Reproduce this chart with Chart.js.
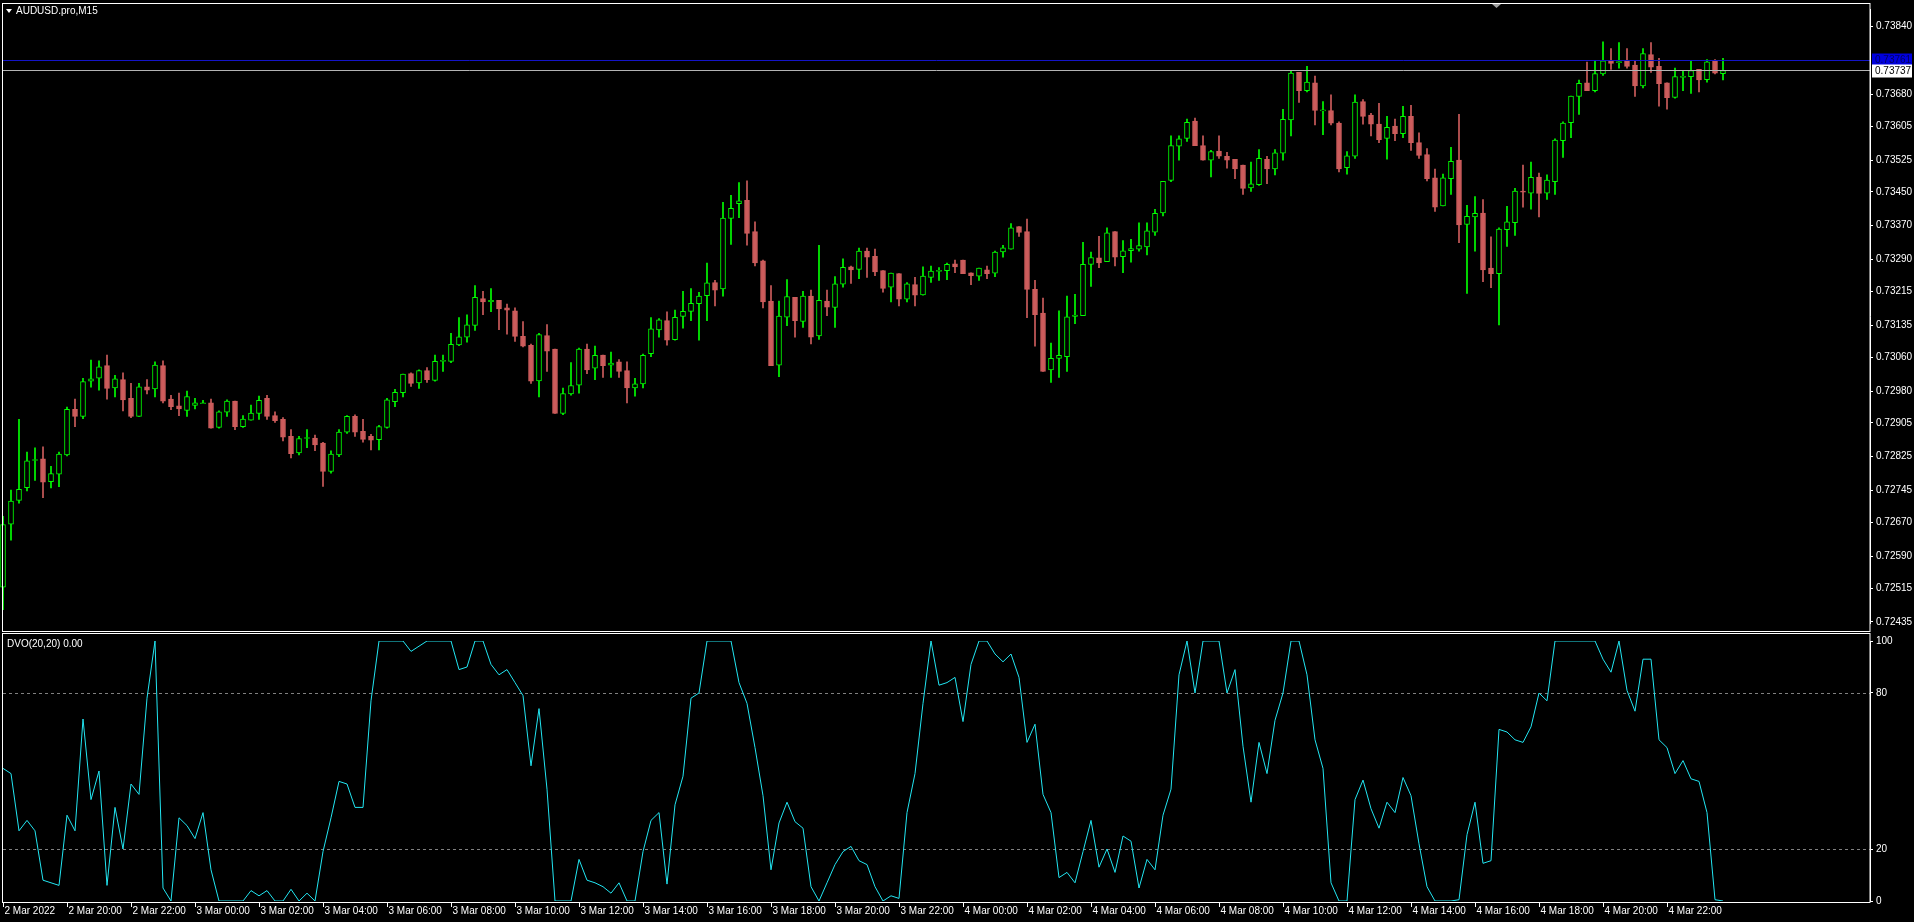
<!DOCTYPE html>
<html>
<head>
<meta charset="utf-8">
<script src="https://cdn.jsdelivr.net/npm/chart.js@4.4.1/dist/chart.umd.min.js"></script>
<style>
  html, body { margin: 0; padding: 0; background: #000; overflow: hidden; }
  #wrap { position: relative; width: 1914px; height: 922px; }
  canvas { position: absolute; left: 0; }
</style>
</head>
<body>
<div id="wrap">
  <canvas id="precio" width="1914" height="632" style="top:0"></canvas>
  <canvas id="dvo" width="1914" height="290" style="top:632px"></canvas>
</div>
<script>
// AUDUSD.pro M15, velas desde 2 Mar 18:00 (precios en puntos de 0.00001)
const openPts = [72517,72666,72722,72752,72816,72820,72766,72784,72829,72937,72920,73003,73010,73040,72987,73007,72963,72920,72990,72985,73040,72961,72945,72934,72946,72950,72952,72894,72930,72956,72896,72911,72927,72963,72922,72913,72873,72834,72868,72869,72857,72790,72829,72883,72920,72885,72873,72865,72894,72955,72976,73021,72999,73028,73005,73050,73050,73089,73107,73135,73198,73191,73194,73176,73169,73109,73088,73004,73111,73079,72927,72973,72994,73079,73034,73065,73041,73049,73028,72987,72997,73068,73124,73146,73101,73156,73168,73186,73205,73236,73221,73387,73422,73430,73356,73287,73192,73041,73154,73201,73144,73204,73110,73192,73177,73232,73273,73267,73310,73298,73264,73225,73257,73197,73231,73207,73248,73262,73264,73280,73289,73259,73251,73266,73258,73308,73315,73368,73356,73220,73164,73030,73057,73061,73156,73158,73279,73294,73285,73356,73297,73311,73315,73320,73355,73400,73477,73558,73576,73617,73559,73525,73546,73534,73527,73513,73459,73467,73527,73504,73541,73620,73732,73689,73707,73641,73642,73612,73507,73534,73663,73631,73610,73576,73605,73587,73628,73566,73538,73483,73417,73481,73525,73373,73391,73400,73270,73257,73361,73377,73452,73447,73485,73447,73474,73571,73613,73675,73707,73689,73728,73760,73755,73758,73749,73700,73774,73746,73707,73673,73720,73722,73739,73715,73758,73729];
const highPts = [72684,72746,72913,72836,72846,72848,72802,72836,72942,72961,73010,73053,73051,73065,73017,73023,72998,72998,73007,73049,73051,72970,72975,72980,72963,72958,72961,72933,72959,72956,72922,72947,72968,72970,72931,72917,72889,72873,72889,72876,72859,72839,72889,72922,72924,72913,72878,72899,72963,72984,73020,73023,73030,73035,73065,73065,73116,73153,73160,73229,73215,73222,73194,73185,73176,73144,73091,73116,73137,73079,72987,73047,73081,73091,73086,73065,73072,73054,73049,73010,73067,73153,73151,73167,73171,73215,73222,73213,73282,73241,73425,73442,73472,73476,73379,73289,73229,73192,73243,73201,73215,73218,73324,73218,73250,73292,73275,73317,73317,73315,73264,73258,73257,73236,73248,73273,73275,73271,73282,73289,73289,73259,73270,73275,73310,73324,73375,73368,73386,73241,73199,73093,73169,73204,73208,73331,73308,73345,73365,73356,73335,73338,73377,73377,73409,73475,73582,73582,73622,73624,73582,73548,73582,73543,73527,73513,73520,73550,73534,73550,73645,73736,73732,73746,73723,73663,73679,73615,73545,73679,73668,73635,73659,73628,73622,73652,73654,73589,73552,73504,73492,73555,73633,73418,73439,73432,73344,73365,73416,73458,73513,73520,73494,73490,73575,73615,73676,73714,73756,73758,73804,73788,73802,73788,73760,73788,73802,73765,73707,73742,73735,73760,73739,73762,73762,73765];
const lowPts = [72464,72628,72715,72744,72769,72728,72751,72754,72827,72896,72915,72989,72982,72961,72966,72933,72917,72920,72973,72966,72952,72936,72922,72920,72938,72950,72892,72892,72920,72889,72894,72911,72913,72913,72906,72862,72822,72829,72846,72839,72755,72786,72825,72880,72873,72859,72841,72841,72892,72943,72966,72991,72986,73000,73003,73026,73047,73087,73095,73123,73160,73167,73125,73114,73097,73084,72998,72966,73026,72927,72924,72970,72975,73021,73007,73012,73012,73012,72952,72968,72987,73061,73107,73088,73100,73128,73146,73100,73146,73181,73204,73326,73389,73324,73275,73176,73040,73014,73134,73107,73130,73091,73102,73158,73130,73225,73234,73245,73248,73252,73213,73190,73181,73190,73181,73206,73236,73241,73243,73259,73257,73231,73241,73245,73250,73296,73315,73345,73153,73086,73026,73000,73012,73026,73139,73158,73227,73271,73285,73275,73259,73284,73310,73301,73347,73393,73474,73525,73569,73559,73525,73485,73529,73506,73481,73444,73451,73465,73469,73490,73525,73582,73661,73686,73608,73585,73608,73497,73492,73529,73610,73582,73566,73527,73571,73578,73548,73529,73476,73404,73417,73444,73330,73210,73310,73238,73224,73136,73321,73347,73414,73409,73391,73432,73444,73531,73578,73633,73689,73686,73725,73739,73742,73742,73675,73695,73732,73652,73645,73671,73689,73682,73686,73709,73728,73714];
const closePts = [72665,72720,72748,72815,72818,72765,72785,72831,72937,72920,73002,73009,73037,72986,73009,72959,72920,72990,72982,73041,72956,72943,72938,72967,72952,72952,72892,72931,72956,72896,72914,72928,72958,72920,72910,72871,72832,72868,72869,72853,72790,72831,72883,72920,72883,72866,72864,72896,72959,72977,73020,72998,73028,73007,73050,73051,73090,73108,73136,73201,73190,73194,73174,73171,73109,73086,73003,73113,73074,72927,72974,72993,73079,73030,73064,73040,73046,73026,72987,72997,73064,73127,73148,73100,73154,73168,73187,73204,73235,73218,73388,73411,73429,73352,73282,73190,73040,73157,73203,73146,73204,73107,73194,73178,73233,73272,73266,73310,73296,73261,73222,73258,73197,73233,73206,73251,73263,73265,73279,73273,73257,73252,73270,73257,73308,73318,73365,73354,73220,73160,73026,73057,73064,73155,73159,73279,73295,73282,73353,73296,73311,73316,73323,73358,73399,73475,73559,73575,73614,73559,73525,73545,73534,73525,73504,73458,73469,73529,73504,73542,73621,73730,73689,73709,73642,73642,73612,73504,73535,73662,73628,73610,73573,73602,73587,73628,73566,73536,73481,73414,73483,73522,73372,73392,73399,73266,73257,73362,73379,73452,73449,73484,73446,73478,73572,73612,73676,73706,73689,73729,73759,73753,73757,73746,73700,73776,73744,73705,73672,73722,73722,73736,73714,73757,73730,73736];
const dvoValues = [51,49,27,31,27,8,7,6,33,27,70,39,50,6,36,20,45,41,78,100,5,0,32,29,24,34,12,0,0,0,0,4,2,4,0,0,4.5,0,3,0,19,32,46,45,36,36,77,100,100,100,100,96,98,100,100,100,100,89,90,100,100,91,87,89,84,79,52,74,43,0,0,0,16,8,7,5.5,3,7,0,0,19,31,34,6.5,37,48,78,80,100,100,100,100,84,76,59,40.5,12,30,38,30.5,28,5.5,0,7,14,19,21,15.5,14,5.5,0,2,1,34,49,76,100,83,84,86,69,91,100,100,95,92,95,86,61,68,41,34,9,11,7,19,31,13,20,11,25,23,5,16,12,33,43,87,100,80,100,100,100,80,89,59.5,38,61,49,69.5,80,100,100,87,62,51,7,0,0,39,46.5,35.5,28,38,34,47.5,40.5,22,5.5,0,0,0,0.5,25.5,38,14.5,15.5,66,65,62,61,67,80,77,100,100,100,100,100,100,93,88,100,81,73,93,93,62,59,49,54,47,46,34,0.5,0];
const timeLabels = ['2 Mar 2022','2 Mar 20:00','2 Mar 22:00','3 Mar 00:00','3 Mar 02:00','3 Mar 04:00','3 Mar 06:00','3 Mar 08:00','3 Mar 10:00','3 Mar 12:00','3 Mar 14:00','3 Mar 16:00','3 Mar 18:00','3 Mar 20:00','3 Mar 22:00','4 Mar 00:00','4 Mar 02:00','4 Mar 04:00','4 Mar 06:00','4 Mar 08:00','4 Mar 10:00','4 Mar 12:00','4 Mar 14:00','4 Mar 16:00','4 Mar 18:00','4 Mar 20:00','4 Mar 22:00'];
const priceTicks = [73840,73680,73605,73525,73450,73370,73290,73215,73135,73060,72980,72905,72825,72745,72670,72590,72515,72435];
const dvoTicks = [0,20,80,100];
const bidPts = 73737, askPts = 73761;
const BARS_PER_LABEL = 8;

const VERDE = '#00ff00', ROJO = '#cd5c5c', CIAN = '#22e6f2';
const FUENTE = '10px "Liberation Sans", Arial, sans-serif';
const X_MIN = -0.375, X_MAX = 233.375;

const alcista = closePts.map((c, i) => c >= openPts[i]);
const mechas = highPts.map((h, i) => ({ x: i, y: [lowPts[i], h] }));
const cuerpos = openPts.map((o, i) => ({ x: i, y: [Math.min(o, closePts[i]), Math.max(o, closePts[i])] }));

function anchoEje(scale) { scale.width = 44; }

const marcoPlugin = {
  id: 'marco',
  afterDraw(chart, args, opts) {
    const c = chart.ctx, a = chart.chartArea;
    c.save();
    c.strokeStyle = '#ffffff';
    c.lineWidth = 1;
    c.strokeRect(2.5, opts.top + 0.5, a.right - 2.5, opts.bottom - opts.top);
    c.restore();
  }
};

const preciosPlugin = {
  id: 'precios',
  afterDatasetsDraw(chart) {
    const c = chart.ctx, a = chart.chartArea, y = chart.scales.y;
    c.save();
    const yAsk = Math.round(y.getPixelForValue(askPts)) + 0.5;
    const yBid = Math.round(y.getPixelForValue(bidPts)) + 0.5;
    c.lineWidth = 1;
    c.strokeStyle = '#1414c8';
    c.beginPath(); c.moveTo(3, yAsk); c.lineTo(a.right, yAsk); c.stroke();
    c.strokeStyle = '#b4b4b4';
    c.beginPath(); c.moveTo(3, yBid); c.lineTo(a.right, yBid); c.stroke();
    c.font = FUENTE;
    c.textBaseline = 'middle';
    c.fillStyle = '#0000dc';
    c.fillRect(a.right + 2, yAsk - 7, 40, 13);
    c.fillStyle = '#000060';
    c.fillText((askPts / 1e5).toFixed(5), a.right + 5, yAsk);
    c.fillStyle = '#ffffff';
    c.fillRect(a.right + 2, yBid - 6, 40, 13);
    c.fillStyle = '#000000';
    c.fillText((bidPts / 1e5).toFixed(5), a.right + 5, yBid + 1);
    // titulo
    c.fillStyle = '#ffffff';
    c.beginPath(); c.moveTo(6, 9); c.lineTo(12, 9); c.lineTo(9, 13); c.closePath(); c.fill();
    c.fillText('AUDUSD.pro,M15', 16, 11);
    // marca de desplazamiento
    c.fillStyle = '#a0a0a0';
    c.beginPath(); c.moveTo(1492, 4); c.lineTo(1501, 4); c.lineTo(1496.5, 8); c.closePath(); c.fill();
    c.restore();
  }
};

new Chart(document.getElementById('precio'), {
  type: 'bar',
  data: {
    datasets: [
      {
        data: mechas, order: 2, grouped: false, barThickness: 1,
        backgroundColor: alcista.map(b => b ? VERDE : ROJO), borderWidth: 0
      },
      {
        data: cuerpos, order: 1, grouped: false, barThickness: 5, minBarLength: 1,
        backgroundColor: alcista.map(b => b ? '#000000' : ROJO),
        borderColor: alcista.map(b => b ? VERDE : ROJO),
        borderWidth: 1, borderSkipped: false
      }
    ]
  },
  options: {
    responsive: false, animation: false, devicePixelRatio: 1,
    layout: { padding: { top: 3, bottom: 1, left: 0, right: 0 } },
    plugins: { legend: { display: false }, tooltip: { enabled: false }, marco: { top: 3, bottom: 631 } },
    scales: {
      x: { type: 'linear', min: X_MIN, max: X_MAX, offset: false, bounds: 'ticks', display: false,
           afterDataLimits(s) { s.min = X_MIN; s.max = X_MAX; } },
      y: {
        position: 'right', min: 72432.5, max: 73881.5,
        afterFit: anchoEje,
        afterBuildTicks(s) { s.ticks = priceTicks.map(v => ({ value: v })); },
        ticks: { color: '#ffffff', font: { size: 10, family: '"Liberation Sans", Arial' }, padding: 3,
                 callback: v => (v / 1e5).toFixed(5) },
        grid: { drawOnChartArea: false, drawTicks: true, tickLength: 3, color: '#ffffff' },
        border: { color: '#ffffff' }
      }
    }
  },
  plugins: [marcoPlugin, preciosPlugin]
});

const dvoPlugin = {
  id: 'dvoExtras',
  beforeDatasetsDraw(chart) {
    const c = chart.ctx, a = chart.chartArea, y = chart.scales.y;
    c.save();
    c.strokeStyle = '#808080';
    c.setLineDash([3, 3]);
    [20, 80].forEach(v => {
      const py = Math.round(y.getPixelForValue(v)) + 0.5;
      c.beginPath(); c.moveTo(3, py); c.lineTo(a.right, py); c.stroke();
    });
    c.restore();
  },
  afterDraw(chart) {
    const c = chart.ctx, a = chart.chartArea, x = chart.scales.x;
    c.save();
    c.strokeStyle = '#ffffff';
    c.lineWidth = 1;
    c.strokeRect(2.5, 1.5, a.right - 2.5, 269);
    c.font = FUENTE;
    c.fillStyle = '#ffffff';
    c.textBaseline = 'middle';
    c.fillText('DVO(20,20) 0.00', 7, 12);
    c.textBaseline = 'top';
    timeLabels.forEach((t, k) => {
      const px = Math.round(x.getPixelForValue(k * BARS_PER_LABEL)) + 0.5;
      c.beginPath(); c.moveTo(px, 271); c.lineTo(px, 275); c.stroke();
      c.fillText(t, px + 1, 274);
    });
    c.restore();
  }
};

new Chart(document.getElementById('dvo'), {
  type: 'line',
  data: {
    datasets: [{
      data: dvoValues.map((v, i) => ({ x: i, y: v })),
      borderColor: CIAN, borderWidth: 1, pointRadius: 0, tension: 0, fill: false
    }]
  },
  options: {
    responsive: false, animation: false, devicePixelRatio: 1,
    layout: { padding: { top: 4, bottom: 21, left: 0, right: 0 } },
    plugins: { legend: { display: false }, tooltip: { enabled: false } },
    scales: {
      x: { type: 'linear', min: X_MIN, max: X_MAX, display: false },
      y: {
        position: 'right', min: 0, max: 100,
        afterFit: anchoEje,
        afterBuildTicks(s) { s.ticks = dvoTicks.map(v => ({ value: v })); },
        ticks: { color: '#ffffff', font: { size: 10, family: '"Liberation Sans", Arial' }, padding: 3 },
        grid: { drawOnChartArea: false, drawTicks: true, tickLength: 3, color: '#ffffff' },
        border: { color: '#ffffff' }
      }
    }
  },
  plugins: [dvoPlugin]
});
</script>
</body>
</html>
